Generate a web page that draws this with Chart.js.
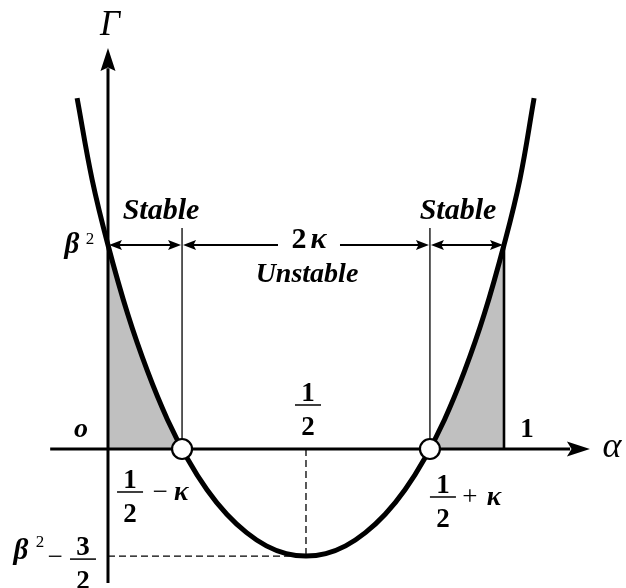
<!DOCTYPE html>
<html>
<head>
<meta charset="utf-8">
<script src="https://cdn.jsdelivr.net/npm/chart.js@4.4.0/dist/chart.umd.min.js"></script>
<style>
  html, body { margin: 0; padding: 0; background: #fff; }
  #wrap { width: 626px; height: 588px; }
  .warm { position: absolute; left: -9999px; top: 0; font-family: "Liberation Serif", "DejaVu Serif", serif; }
</style>
</head>
<body>
<div id="wrap"><canvas id="diagram" width="626" height="588"></canvas></div>
<span class="warm" style="font-weight:bold;font-style:italic">Stable &#954;&#946;</span>
<span class="warm" style="font-weight:bold">12</span>
<span class="warm" style="font-style:italic">&#915;&#945;</span>
<span class="warm">&#8722;+</span>
<script>
// Gamma(alpha), with beta^2 taken as 1
const alpha = [-0.078, -0.04, 0, 0.05, 0.1, 0.15, 0.2, 0.25, 0.3, 0.35, 0.4, 0.45, 0.5,
               0.55, 0.6, 0.65, 0.7, 0.75, 0.8, 0.85, 0.9, 0.95, 1.0, 1.04, 1.076];
const gamma = [1.72, 1.32, 1.0, 0.66, 0.38, 0.145, -0.045, -0.2, -0.32, -0.41, -0.475, -0.513, -0.525,
               -0.513, -0.475, -0.41, -0.32, -0.2, -0.045, 0.145, 0.38, 0.66, 1.0, 1.32, 1.72];
const roots = [0.187, 0.813];
const beta2 = 1;
const gammaMin = -0.525;
const alphaMid = 0.5;
const xAxisEnd = [-0.146, 1.217];
const yAxisEnd = [-0.657, 1.966];
const xRange = [-0.2727, 1.3081];
const yRange = [-0.6814, 2.201];

const pts = alpha.map((a, i) => ({ x: a, y: gamma[i] }));
const leftShade = pts.filter(p => p.x >= 0 && p.x < roots[0]).map(p => ({ ...p }))
  .concat([{ x: roots[0], y: 0 }]);
const rightShade = [{ x: roots[1], y: 0 }]
  .concat(pts.filter(p => p.x > roots[1] && p.x <= 1).map(p => ({ ...p })));

const SERIF = '"Liberation Serif", "DejaVu Serif", serif';

function text(ctx, s, font, x, y, align) {
  ctx.font = font;
  ctx.textAlign = align || 'center';
  ctx.textBaseline = 'alphabetic';
  ctx.fillText(s, x, y);
}

function frac(ctx, cx, barY, num, den) {
  text(ctx, num, 'bold 27px ' + SERIF, cx, barY - 4);
  text(ctx, den, 'bold 27px ' + SERIF, cx, barY + 30);
  ctx.fillRect(cx - 13, barY - 0.75, 26, 1.5);
}

function head(ctx, x, y, dir, len, half) {
  ctx.beginPath();
  ctx.moveTo(x, y);
  ctx.lineTo(x - dir * len, y - half);
  ctx.lineTo(x - dir * len * 0.8, y);
  ctx.lineTo(x - dir * len, y + half);
  ctx.closePath();
  ctx.fill();
}

function headV(ctx, x, y, len, half) {
  ctx.beginPath();
  ctx.moveTo(x, y);
  ctx.lineTo(x - half, y + len);
  ctx.lineTo(x, y + len * 0.85);
  ctx.lineTo(x + half, y + len);
  ctx.closePath();
  ctx.fill();
}

function dimLine(ctx, x1, x2, y) {
  ctx.beginPath();
  ctx.moveTo(x1 + 4, y);
  ctx.lineTo(x2 - 4, y);
  ctx.stroke();
  head(ctx, x1 + 1, y, -1, 13, 5);
  head(ctx, x2 - 1, y, 1, 13, 5);
}

const diagramPlugin = {
  id: 'diagram',
  afterDatasetsDraw(chart) {
    const ctx = chart.ctx;
    const sx = chart.scales.x, sy = chart.scales.y;
    const X = v => sx.getPixelForValue(v);
    const Y = v => sy.getPixelForValue(v);
    ctx.save();
    ctx.fillStyle = '#000';
    ctx.strokeStyle = '#000';

    // axis arrowheads
    head(ctx, X(xAxisEnd[1]), Y(0), 1, 23, 7.5);
    headV(ctx, X(0), Y(yAxisEnd[1]), 23, 7.5);

    // dimension arrows at beta^2 level
    ctx.lineWidth = 2;
    const dy = Y(beta2);
    dimLine(ctx, X(0), X(roots[0]), dy);
    dimLine(ctx, X(roots[1]), X(1), dy);
    const xm = X(alphaMid);
    ctx.beginPath();
    ctx.moveTo(X(roots[0]) + 4, dy); ctx.lineTo(xm - 28, dy);
    ctx.moveTo(xm + 34, dy); ctx.lineTo(X(roots[1]) - 4, dy);
    ctx.stroke();
    head(ctx, X(roots[0]) + 1, dy, -1, 13, 5);
    head(ctx, X(roots[1]) - 1, dy, 1, 13, 5);

    // 2 kappa
    ctx.font = 'bold 30px ' + SERIF;
    const w2 = ctx.measureText('2').width;
    ctx.font = 'bold italic 30px ' + SERIF;
    const wk = ctx.measureText('\u03BA').width;
    const gap = 4;
    const x0 = xm + 3 - (w2 + wk + gap) / 2;
    text(ctx, '2', 'bold 30px ' + SERIF, x0, dy + 3, 'left');
    text(ctx, '\u03BA', 'bold italic 30px ' + SERIF, x0 + w2 + gap, dy + 3, 'left');

    // region labels
    text(ctx, 'Stable', 'bold italic 30px ' + SERIF, X(0) + 53, dy - 26);
    text(ctx, 'Stable', 'bold italic 30px ' + SERIF, X(1) - 46, dy - 26);
    text(ctx, 'Unstable', 'bold italic 28px ' + SERIF, xm + 1, dy + 37);

    // axis names
    text(ctx, '\u0393', 'italic 35px ' + SERIF, X(0) + 2, Y(yAxisEnd[1]) - 13);
    text(ctx, '\u03B1', 'italic 36px ' + SERIF, X(xAxisEnd[1]) + 22, Y(0) + 8);

    // beta^2 on the vertical axis
    text(ctx, '\u03B2', 'bold italic 29px ' + SERIF, X(0) - 36, dy + 8);
    text(ctx, '2', '17px ' + SERIF, X(0) - 18, dy - 1);

    // origin and 1
    text(ctx, 'o', 'bold italic 28px ' + SERIF, X(0) - 27, Y(0) - 12);
    text(ctx, '1', 'bold 27px ' + SERIF, X(1) + 23, Y(0) - 12);

    // 1/2 above the axis
    frac(ctx, xm + 2, Y(0) - 44, '1', '2');

    // 1/2 - kappa
    const xl = X(roots[0]);
    frac(ctx, xl - 52, Y(0) + 43, '1', '2');
    text(ctx, '\u2212', '27px ' + SERIF, xl - 22, Y(0) + 51);
    text(ctx, '\u03BA', 'bold italic 27px ' + SERIF, xl - 1, Y(0) + 51);

    // 1/2 + kappa
    const xr = X(roots[1]);
    frac(ctx, xr + 13, Y(0) + 48, '1', '2');
    text(ctx, '+', '27px ' + SERIF, xr + 40, Y(0) + 56);
    text(ctx, '\u03BA', 'bold italic 27px ' + SERIF, xr + 64, Y(0) + 56);

    // beta^2 - 3/2 at the minimum
    const ym = Y(gammaMin);
    text(ctx, '\u03B2', 'bold italic 29px ' + SERIF, X(0) - 87, ym + 3);
    text(ctx, '2', '17px ' + SERIF, X(0) - 68, ym - 9);
    text(ctx, '\u2212', '27px ' + SERIF, X(0) - 53, ym + 9);
    frac(ctx, X(0) - 25, ym + 3, '3', '2');

    ctx.restore();
  }
};

function draw() {
  const ctx = document.getElementById('diagram').getContext('2d');
  new Chart(ctx, {
    type: 'line',
    data: {
      datasets: [
        { label: 'roots', data: roots.map(r => ({ x: r, y: 0 })), showLine: false,
          pointRadius: 10, pointBackgroundColor: '#fff', pointBorderColor: '#000', pointBorderWidth: 2.2 },
        { label: 'Gamma', data: pts, borderColor: '#000', borderWidth: 5, tension: 0.4,
          pointRadius: 0, fill: false },
        { label: 'x axis', data: [{ x: xAxisEnd[0], y: 0 }, { x: xAxisEnd[1] - 0.05, y: 0 }],
          borderColor: '#000', borderWidth: 3, pointRadius: 0 },
        { label: 'y axis', data: [{ x: 0, y: yAxisEnd[0] }, { x: 0, y: yAxisEnd[1] - 0.1 }],
          borderColor: '#000', borderWidth: 3, pointRadius: 0 },
        { label: 'alpha=1', data: [{ x: 1, y: 0 }, { x: 1, y: beta2 }],
          borderColor: '#000', borderWidth: 2.6, pointRadius: 0 },
        { label: 'left bound', data: [{ x: roots[0], y: 0 }, { x: roots[0], y: 1.083 }],
          borderColor: '#000', borderWidth: 1.3, pointRadius: 0 },
        { label: 'right bound', data: [{ x: roots[1], y: 0 }, { x: roots[1], y: 1.083 }],
          borderColor: '#000', borderWidth: 1.3, pointRadius: 0 },
        { label: 'min h', data: [{ x: 0, y: gammaMin }, { x: alphaMid, y: gammaMin }],
          borderColor: '#000', borderWidth: 1.3, borderDash: [7, 4], pointRadius: 0 },
        { label: 'min v', data: [{ x: alphaMid, y: 0 }, { x: alphaMid, y: gammaMin }],
          borderColor: '#000', borderWidth: 1.3, borderDash: [7, 4], pointRadius: 0 },
        { label: 'left shade', data: leftShade, borderColor: 'rgba(0,0,0,0)', borderWidth: 0,
          backgroundColor: '#c0c0c0', fill: 'origin', cubicInterpolationMode: 'monotone', pointRadius: 0 },
        { label: 'right shade', data: rightShade, borderColor: 'rgba(0,0,0,0)', borderWidth: 0,
          backgroundColor: '#c0c0c0', fill: 'origin', cubicInterpolationMode: 'monotone', pointRadius: 0 }
      ]
    },
    options: {
      responsive: false,
      animation: false,
      events: [],
      layout: { padding: 0, autoPadding: false },
      plugins: { legend: { display: false }, tooltip: { enabled: false } },
      scales: {
        x: { type: 'linear', min: xRange[0], max: xRange[1], display: false },
        y: { type: 'linear', min: yRange[0], max: yRange[1], display: false }
      }
    },
    plugins: [diagramPlugin]
  });
}

const fontsWanted = ['bold italic 29px "Liberation Serif"', 'bold 27px "Liberation Serif"',
                     'italic 34px "Liberation Serif"', '27px "Liberation Serif"'];
Promise.all(fontsWanted.map(f => document.fonts.load(f)))
  .catch(e => console.warn('font load failed', e))
  .then(() => draw());
</script>
</body>
</html>
